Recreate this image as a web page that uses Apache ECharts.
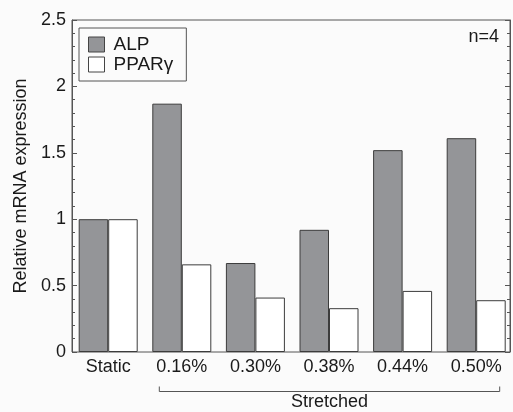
<!DOCTYPE html>
<html>
<head>
<meta charset="utf-8">
<script src="https://cdn.jsdelivr.net/npm/echarts@6/dist/echarts.min.js"></script>
<style>
  html, body { margin: 0; padding: 0; background: #fbfbfb; }
  #chart { width: 513px; height: 412px; }
</style>
</head>
<body>
<div id="chart"></div>
<script>
// data
const categories = ["Static", "0.16%", "0.30%", "0.38%", "0.44%", "0.50%"];
const alpValues = [1.0, 1.87, 0.67, 0.92, 1.52, 1.61];
const pparValues = [1.0, 0.66, 0.41, 0.33, 0.46, 0.39];
const yMin = 0;
const yMax = 2.5;
const yStep = 0.5;

const font = "'Liberation Sans', Arial, sans-serif";
const ink = "#1a1a1a";
const lineCol = "#555";

const chart = echarts.init(document.getElementById("chart"));

const option = {
  backgroundColor: "#fbfbfb",
  animation: false,
  textStyle: { fontFamily: font },
  title: {
    text: "n=4",
    right: 14,
    top: 28,
    padding: 0,
    textStyle: { fontSize: 18, fontWeight: "normal", color: ink, fontFamily: font },
  },
  legend: {
    orient: "vertical",
    left: 79,
    top: 28,
    data: ["ALP", "PPARγ"],
    icon: "rect",
    itemWidth: 16,
    itemHeight: 15,
    itemGap: 1,
    borderColor: lineCol,
    borderWidth: 1,
    padding: [7, 13, 7, 9],
    itemStyle: { borderColor: "#444", borderWidth: 1 },
    textStyle: { fontSize: 19, color: ink, fontFamily: font, padding: [0, 0, 0, 4] },
  },
  grid: [
    // bars
    { left: 71.4, top: 20, width: 443, height: 332 },
    // frame
    {
      left: 72,
      top: 20,
      width: 438,
      height: 332,
      show: true,
      borderColor: lineCol,
      borderWidth: 1,
      backgroundColor: "transparent",
    },
  ],
  xAxis: [
    {
      gridIndex: 0,
      type: "category",
      data: categories,
      axisLine: { show: false },
      axisTick: { show: false },
      axisLabel: { fontSize: 18, color: ink, fontFamily: font, margin: 6 },
    },
    { gridIndex: 1, type: "value", show: false },
  ],
  yAxis: [
    { gridIndex: 0, type: "value", min: yMin, max: yMax, show: false },
    {
      gridIndex: 1,
      type: "value",
      position: "left",
      min: yMin,
      max: yMax,
      interval: yStep,
      axisLine: { show: true, lineStyle: { color: lineCol } },
      axisTick: { show: true, inside: true, length: 5, lineStyle: { color: lineCol } },
      minorTick: { show: true, splitNumber: 5, length: 3, lineStyle: { color: lineCol } },
      splitLine: { show: false },
      axisLabel: { fontSize: 18, color: ink, fontFamily: font, margin: 6 },
      name: "Relative mRNA expression",
      nameLocation: "middle",
      nameGap: 42,
      nameTextStyle: { fontSize: 18, color: ink, fontFamily: font },
    },
    {
      gridIndex: 1,
      type: "value",
      position: "right",
      min: yMin,
      max: yMax,
      interval: yStep,
      axisLine: { show: true, lineStyle: { color: lineCol } },
      axisTick: { show: true, inside: true, length: 5, lineStyle: { color: lineCol } },
      minorTick: { show: true, splitNumber: 5, length: 3, lineStyle: { color: lineCol } },
      splitLine: { show: false },
      axisLabel: { show: false },
    },
  ],
  series: [
    {
      name: "ALP",
      type: "bar",
      xAxisIndex: 0,
      yAxisIndex: 0,
      data: alpValues,
      barWidth: 29.5,
      barGap: "0%",
      itemStyle: { color: "#949598", borderColor: "#3c3c3c", borderWidth: 1 },
    },
    {
      name: "PPARγ",
      type: "bar",
      xAxisIndex: 0,
      yAxisIndex: 0,
      data: pparValues,
      barWidth: 29.5,
      barGap: "0%",
      itemStyle: { color: "#ffffff", borderColor: "#3c3c3c", borderWidth: 1 },
    },
  ],
};
chart.setOption(option);

// bracket under the stretched groups
const xFirst = chart.convertToPixel({ xAxisIndex: 0 }, categories[1]);
const xLast = chart.convertToPixel({ xAxisIndex: 0 }, categories[categories.length - 1]);
const left = xFirst - 22.5;
const right = xLast + 23.5;
chart.setOption({
  graphic: [
    {
      type: "polyline",
      shape: { points: [[left, 386.5], [left, 391.5], [right, 391.5], [right, 386.5]] },
      style: { stroke: lineCol, lineWidth: 1, fill: null },
    },
    {
      type: "text",
      x: (left + right) / 2,
      y: 402.5,
      style: {
        text: "Stretched",
        fontSize: 18,
        fontFamily: font,
        fill: ink,
        align: "center",
        verticalAlign: "middle",
      },
    },
  ],
});
</script>
</body>
</html>
